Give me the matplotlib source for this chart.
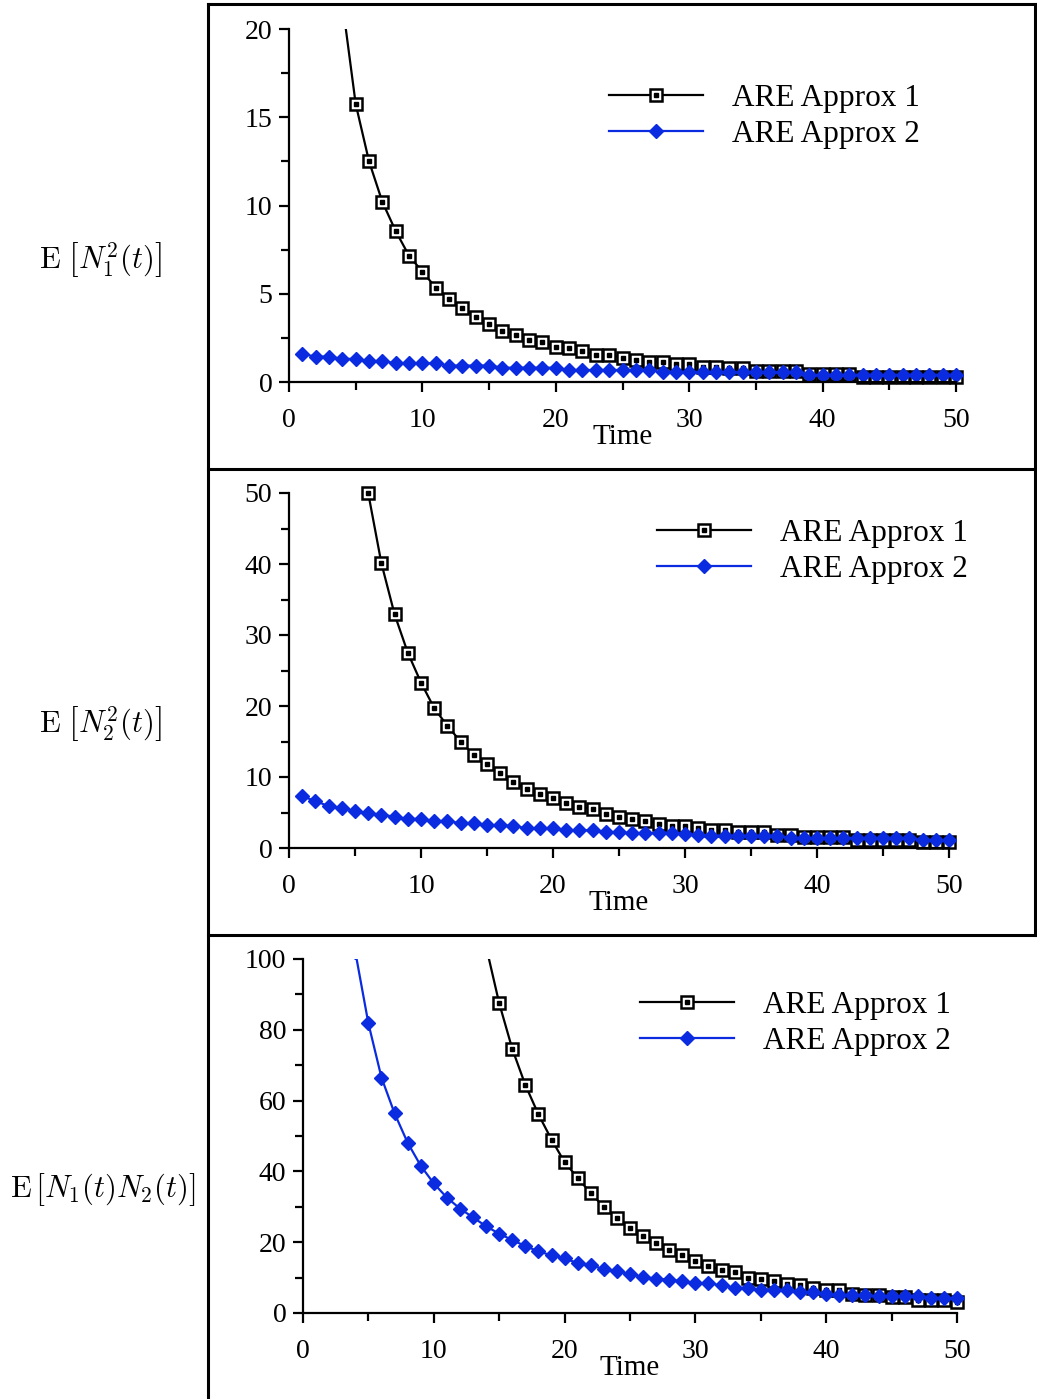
import numpy as np
import matplotlib
matplotlib.use('Agg')
import matplotlib.pyplot as plt
from matplotlib.lines import Line2D
from matplotlib.patches import Rectangle
from matplotlib.legend_handler import HandlerTuple
from matplotlib.ticker import MultipleLocator

plt.rcParams['font.family'] = ['Liberation Serif', 'DejaVu Serif']
plt.rcParams['mathtext.fontset'] = 'cm'

nan = np.nan
time = np.arange(1, 51)
series_names = ['ARE Approx 1', 'ARE Approx 2']

# E[N1^2(t)]
n1sq_approx1 = [95, 48, 29, 21.5, 15.75, 12.5, 10.2, 8.55, 7.15, 6.25,
                5.35, 4.7, 4.2, 3.7, 3.3, 2.9, 2.67, 2.4, 2.27, 2.0,
                1.9, 1.76, 1.53, 1.53, 1.38, 1.25, 1.15, 1.15, 1.02, 1.02,
                0.87, 0.87, 0.78, 0.78, 0.64, 0.64, 0.64, 0.64, 0.45, 0.45,
                0.45, 0.45, 0.3, 0.3, 0.3, 0.3, 0.3, 0.3, 0.3, 0.3]
n1sq_approx2 = [1.59, 1.44, 1.44, 1.31, 1.31, 1.19, 1.19, 1.06, 1.06, 1.06,
                1.06, 0.93, 0.93, 0.93, 0.93, 0.81, 0.81, 0.81, 0.81, 0.81,
                0.68, 0.68, 0.68, 0.68, 0.68, 0.68, 0.68, 0.55, 0.55, 0.55,
                0.55, 0.55, 0.55, 0.55, 0.55, 0.55, 0.55, 0.55, 0.4, 0.4,
                0.4, 0.4, 0.4, 0.4, 0.4, 0.4, 0.4, 0.4, 0.4, 0.4]

# E[N2^2(t)]
n2sq_approx1 = [nan, nan, nan, nan, nan, 50.0, 40.1, 32.9, 27.5, 23.3,
                19.7, 17.2, 15.0, 13.1, 11.8, 10.6, 9.3, 8.3, 7.6, 7.0,
                6.4, 5.8, 5.5, 4.8, 4.4, 4.1, 3.8, 3.45, 3.15, 3.1,
                2.8, 2.5, 2.5, 2.2, 2.2, 2.2, 1.9, 1.9, 1.6, 1.6,
                1.6, 1.6, 1.06, 1.06, 1.06, 1.06, 1.06, 0.9, 0.9, 0.9]
n2sq_approx2 = [7.3, 6.6, 5.9, 5.6, 5.25, 4.9, 4.7, 4.4, 4.1, 4.1,
                3.8, 3.8, 3.5, 3.5, 3.2, 3.2, 3.1, 2.8, 2.8, 2.8,
                2.5, 2.5, 2.5, 2.3, 2.2, 2.1, 2.1, 2.1, 2.1, 2.0,
                1.8, 1.75, 1.75, 1.75, 1.75, 1.75, 1.75, 1.4, 1.4, 1.4,
                1.4, 1.4, 1.4, 1.4, 1.4, 1.4, 1.4, 1.1, 1.1, 1.1]

# E[N1(t)N2(t)]
n1n2_approx1 = [1300, 800, 560, 420, 330, 270, 225, 192, 167, 148,
                132, 120, 111, 103.5, 87.5, 74.6, 64.4, 56.1, 49.0, 42.6,
                38.2, 33.8, 30.0, 26.7, 24.1, 21.7, 19.7, 17.7, 16.5, 14.6,
                13.3, 12.1, 11.5, 10.0, 9.5, 9.0, 8.3, 7.8, 7.2, 6.4,
                6.4, 5.5, 5.0, 5.0, 4.5, 4.5, 3.8, 3.8, 3.8, 3.1]
n1n2_approx2 = [330, 190, 130, 102, 81.8, 66.5, 56.4, 48.1, 41.6, 36.6,
                32.6, 29.5, 27.0, 24.5, 22.4, 20.6, 18.9, 17.4, 16.3, 15.4,
                14.1, 13.5, 12.4, 11.8, 11.0, 10.2, 9.7, 9.4, 9.0, 8.5,
                8.4, 7.8, 7.2, 7.1, 6.6, 6.5, 6.5, 5.9, 5.9, 5.3,
                5.2, 5.0, 5.0, 4.7, 4.7, 4.7, 4.7, 4.1, 4.1, 4.1]

row_labels = [r'$\mathrm{E}\ \left[N_1^2(t)\right]$',
              r'$\mathrm{E}\ \left[N_2^2(t)\right]$',
              r'$\mathrm{E}\,\left[N_1(t)N_2(t)\right]$']

W, H = 1037, 1399
BLACK = '#000000'
BLUE = '#0a2be0'

fig = plt.figure(figsize=(W / 100, H / 100), dpi=100)


def px_axes(left, top, right, bottom):
    return fig.add_axes([left / W, 1 - bottom / H, (right - left) / W, (bottom - top) / H])


def fig_line(x0, y0, x1, y1):
    fig.add_artist(Line2D([x0 / W, x1 / W], [1 - y0 / H, 1 - y1 / H],
                          transform=fig.transFigure, color='black', lw=2.2))


def draw_panel(ax, y1, y2, ymax, ymajor, top_clip, leg_xy):
    clip = Rectangle((-0.03, -0.05), 1.06, 0.05 + top_clip, transform=ax.transAxes)
    l1, = ax.plot(time, y1, color=BLACK, lw=1.6, marker='s', ms=8.5,
                  mfc='white', mec=BLACK, mew=1.8)
    d1, = ax.plot(time, y1, ls='none', marker='s', ms=2.2, mfc=BLACK, mec=BLACK)
    l2, = ax.plot(time, y2, color=BLUE, lw=1.6, marker='D', ms=7.5,
                  mfc=BLUE, mec=BLUE)
    for ln in (l1, d1, l2):
        ln.set_clip_path(clip)
    ax.set_xlim(0, 50)
    ax.set_ylim(0, ymax)
    ax.xaxis.set_major_locator(MultipleLocator(10))
    ax.xaxis.set_minor_locator(MultipleLocator(5))
    ax.yaxis.set_major_locator(MultipleLocator(ymajor))
    ax.yaxis.set_minor_locator(MultipleLocator(ymajor / 2))
    for s in ('top', 'right'):
        ax.spines[s].set_visible(False)
    for s in ('left', 'bottom'):
        ax.spines[s].set_linewidth(1.6)
    ax.tick_params(axis='both', which='major', direction='out', length=7,
                   width=1.6, labelsize=20)
    ax.tick_params(axis='both', which='minor', direction='out', length=6, width=1.6)
    ax.tick_params(axis='x', which='major', pad=12)
    ax.tick_params(axis='y', which='major', pad=5)
    ax.text(0.5, -0.155, 'Time', transform=ax.transAxes, ha='center',
            va='center', fontsize=21)
    h1 = (Line2D([], [], color=BLACK, lw=1.6, marker='s', ms=8.5, mfc='white',
                 mec=BLACK, mew=1.8),
          Line2D([], [], ls='none', marker='s', ms=2.2, mfc=BLACK, mec=BLACK))
    h2 = Line2D([], [], color=BLUE, lw=1.6, marker='D', ms=7.5, mfc=BLUE, mec=BLUE)
    ax.legend([h1, h2], series_names, handler_map={tuple: HandlerTuple(ndivide=1)},
              loc='upper left', bbox_to_anchor=(leg_xy[0] / W, 1 - leg_xy[1] / H),
              bbox_transform=fig.transFigure, frameon=False, fontsize=22.5,
              handlelength=3.0, handletextpad=0.95, labelspacing=0.22,
              borderpad=0, borderaxespad=0, numpoints=1)


ax1 = px_axes(289, 29, 956, 382)
draw_panel(ax1, n1sq_approx1, n1sq_approx2, 20, 5, 1.0, (609, 84))
ax2 = px_axes(289, 493, 949, 848)
draw_panel(ax2, n2sq_approx1, n2sq_approx2, 50, 10, 1.03, (657, 519))
ax3 = px_axes(303, 959, 957, 1313)
draw_panel(ax3, n1n2_approx1, n1n2_approx2, 100, 20, 1.0, (640, 991))

# row labels
fig.text(100 / W, 1 - 260 / H, row_labels[0], ha='center', va='center', fontsize=22)
fig.text(100 / W, 1 - 724 / H, row_labels[1], ha='center', va='center', fontsize=22)
fig.text(103 / W, 1 - 1190 / H, row_labels[2], ha='center', va='center', fontsize=22)

# table frame
fig_line(208, 4, 1036, 4)
fig_line(208, 4, 208, 1399)
fig_line(1035, 4, 1035, 935)
fig_line(208, 469, 1036, 469)
fig_line(208, 935, 1036, 935)

fig.savefig('out.png', dpi=100)
